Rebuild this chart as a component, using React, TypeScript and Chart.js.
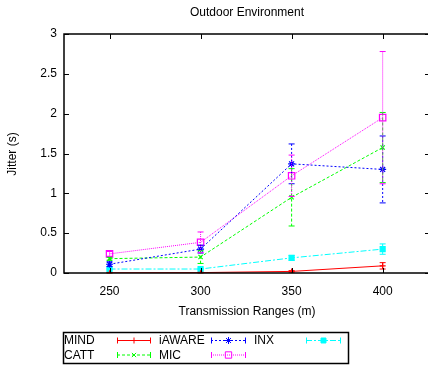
import React, { useEffect, useRef } from "react";
import { Chart, registerables } from "chart.js";
import { drawPoint } from "chart.js/helpers";

Chart.register(...registerables);

const categories = [250, 300, 350, 400];
const yTicks = [0, 0.5, 1, 1.5, 2, 2.5, 3];
const seriesNames = ["MIND", "iAWARE", "INX", "CATT", "MIC"];

const mindValues = [0.003, 0.005, 0.02, 0.09];
const mindErrors = [0.004, 0.004, 0.01, 0.04];
const iawareValues = [0.11, 0.3, 1.37, 1.3];
const iawareErrors = [0.03, 0.05, 0.25, 0.42];
const inxValues = [0.05, 0.05, 0.19, 0.3];
const inxErrors = [0.01, 0.01, 0.03, 0.065];
const cattValues = [0.18, 0.2, 0.95, 1.575];
const cattErrors = [0.02, 0.08, 0.36, 0.44];
const micValues = [0.24, 0.385, 1.22, 1.95];
const micErrors = [0.03, 0.13, 0.26, 0.83];

const FONT = "Liberation Sans";

type Style = { color: string; dash: number[]; point: string; radius: number; fill: boolean };
const styles: Style[] = [
  { color: "#ff0000", dash: [], point: "cross", radius: 3, fill: false },
  { color: "#0000ff", dash: [2, 2], point: "star", radius: 3.5, fill: false },
  { color: "#00ffff", dash: [6, 2, 2, 2], point: "rect", radius: 3.5, fill: true },
  { color: "#00ff00", dash: [3, 2], point: "crossRot", radius: 3, fill: false },
  { color: "#ff00ff", dash: [1, 1], point: "rect", radius: 4.5, fill: false },
];

const allValues = [mindValues, iawareValues, inxValues, cattValues, micValues];
const allErrors = [mindErrors, iawareErrors, inxErrors, cattErrors, micErrors];

const framePlugin = {
  id: "frame",
  afterDraw(chart: any) {
    const { ctx, chartArea: a, scales } = chart;
    ctx.save();
    ctx.strokeStyle = "#000";
    ctx.lineWidth = 1.5;
    ctx.setLineDash([]);
    ctx.strokeRect(a.left, a.top, a.right - a.left, a.bottom - a.top);
    ctx.lineWidth = 1;
    ctx.beginPath();
    for (const v of yTicks) {
      const y = Math.round(scales.y.getPixelForValue(v)) + 0.5;
      ctx.moveTo(a.left, y);
      ctx.lineTo(a.left + 5, y);
      ctx.moveTo(a.right, y);
      ctx.lineTo(a.right - 5, y);
    }
    for (const v of categories) {
      const x = Math.round(scales.x.getPixelForValue(v)) + 0.5;
      ctx.moveTo(x, a.bottom);
      ctx.lineTo(x, a.bottom - 5);
      ctx.moveTo(x, a.top);
      ctx.lineTo(x, a.top + 5);
    }
    ctx.stroke();
    ctx.restore();
  },
};

const errorBarPlugin = {
  id: "errorBars",
  afterDatasetsDraw(chart: any) {
    const { ctx, scales } = chart;
    ctx.save();
    allValues.forEach((vals, i) => {
      const st = styles[i];
      ctx.strokeStyle = st.color;
      ctx.lineWidth = 1;
      vals.forEach((v, j) => {
        const e = allErrors[i][j];
        const x = scales.x.getPixelForValue(categories[j]);
        const y1 = scales.y.getPixelForValue(v + e);
        const y2 = scales.y.getPixelForValue(Math.max(0, v - e));
        ctx.setLineDash(st.dash);
        ctx.beginPath();
        ctx.moveTo(x, y1);
        ctx.lineTo(x, y2);
        ctx.stroke();
        ctx.setLineDash([]);
        ctx.beginPath();
        ctx.moveTo(x - 3, y1);
        ctx.lineTo(x + 3, y1);
        ctx.moveTo(x - 3, y2);
        ctx.lineTo(x + 3, y2);
        ctx.stroke();
      });
    });
    ctx.restore();
  },
};

const legendPlugin = {
  id: "customLegend",
  afterDraw(chart: any) {
    const { ctx } = chart;
    ctx.save();
    ctx.strokeStyle = "#000";
    ctx.lineWidth = 1.5;
    ctx.setLineDash([]);
    ctx.strokeRect(63.5, 332.5, 285, 31);
    const cols = [
      { lx: 64, sx1: 117, sx2: 151 },
      { lx: 159, sx1: 211, sx2: 246 },
      { lx: 254, sx1: 306, sx2: 341 },
    ];
    const rows = [340, 354.5];
    ctx.font = `12px "${FONT}"`;
    ctx.textBaseline = "middle";
    ctx.textAlign = "left";
    seriesNames.forEach((name, i) => {
      const c = cols[i % 3];
      const y = rows[Math.floor(i / 3)];
      const st = styles[i];
      ctx.fillStyle = "#000";
      ctx.fillText(name, c.lx, y + 1);
      ctx.strokeStyle = st.color;
      ctx.lineWidth = 1;
      ctx.setLineDash(st.dash);
      ctx.beginPath();
      ctx.moveTo(c.sx1, y + 0.5);
      ctx.lineTo(c.sx2, y + 0.5);
      ctx.stroke();
      ctx.setLineDash([]);
      ctx.beginPath();
      ctx.moveTo(c.sx1 + 0.5, y - 2.5);
      ctx.lineTo(c.sx1 + 0.5, y + 3.5);
      ctx.moveTo(c.sx2 - 0.5, y - 2.5);
      ctx.lineTo(c.sx2 - 0.5, y + 3.5);
      ctx.stroke();
      ctx.fillStyle = st.fill ? st.color : "rgba(0,0,0,0)";
      drawPoint(
        ctx,
        { pointStyle: st.point as any, radius: st.radius, rotation: 0, borderWidth: 1.2 } as any,
        (c.sx1 + c.sx2) / 2,
        y + 0.5
      );
    });
    ctx.restore();
  },
};

const textPlugin = {
  id: "texts",
  afterDraw(chart: any) {
    const { ctx } = chart;
    ctx.save();
    ctx.fillStyle = "#000";
    ctx.font = `12px "${FONT}"`;
    ctx.textAlign = "center";
    ctx.textBaseline = "middle";
    ctx.fillText("Outdoor Environment", 247, 13);
    ctx.fillText("Transmission Ranges (m)", 247, 312);
    ctx.translate(13, 154);
    ctx.rotate(-Math.PI / 2);
    ctx.fillText("Jitter (s)", 0, 0);
    ctx.restore();
  },
};

export default function App() {
  const ref = useRef<HTMLCanvasElement | null>(null);
  useEffect(() => {
    if (!ref.current) return;
    const datasets = seriesNames.map((name, i) => {
      const st = styles[i];
      return {
        label: name,
        data: allValues[i].map((v, j) => ({ x: categories[j], y: v })),
        borderColor: st.color,
        backgroundColor: st.fill ? st.color : "rgba(0,0,0,0)",
        borderWidth: 1,
        borderDash: st.dash,
        pointStyle: st.point,
        pointRadius: st.radius,
        pointBorderWidth: 1.2,
        pointBorderColor: st.color,
        pointBackgroundColor: st.fill ? st.color : "rgba(0,0,0,0)",
        fill: false,
        tension: 0,
      };
    });
    const tickFont = { family: FONT, size: 12 };
    const chart = new Chart(ref.current, {
      type: "line",
      data: { datasets: datasets as any },
      options: {
        responsive: false,
        animation: false,
        layout: { padding: { top: 34, right: 10, left: 0, bottom: 0 } },
        plugins: {
          legend: { display: false },
          title: { display: false },
          tooltip: { enabled: false },
        },
        scales: {
          x: {
            type: "linear",
            min: 225,
            max: 426,
            grid: { display: false, drawTicks: false },
            border: { display: false },
            afterBuildTicks: (s: any) => {
              s.ticks = categories.map((v) => ({ value: v }));
            },
            afterFit: (s: any) => {
              s.height = 94;
            },
            ticks: {
              padding: 11,
              font: tickFont,
              color: "#000",
              maxRotation: 0,
              autoSkip: false,
              callback: (v: any) => String(v),
            },
          },
          y: {
            type: "linear",
            min: 0,
            max: 3,
            grid: { display: false, drawTicks: false },
            border: { display: false },
            afterBuildTicks: (s: any) => {
              s.ticks = yTicks.map((v) => ({ value: v }));
            },
            afterFit: (s: any) => {
              s.width = 64;
            },
            ticks: {
              padding: 7,
              font: tickFont,
              color: "#000",
              autoSkip: false,
              callback: (v: any) => String(v),
            },
          },
        },
      } as any,
      plugins: [errorBarPlugin, framePlugin, legendPlugin, textPlugin],
    });
    return () => chart.destroy();
  }, []);
  return (
    <div
      style={{
        position: "fixed",
        left: 0,
        top: 0,
        width: 428,
        height: 367,
        overflow: "hidden",
        background: "#fff",
      }}
    >
      <canvas ref={ref} width={440} height={367} style={{ display: "block" }} />
    </div>
  );
}
